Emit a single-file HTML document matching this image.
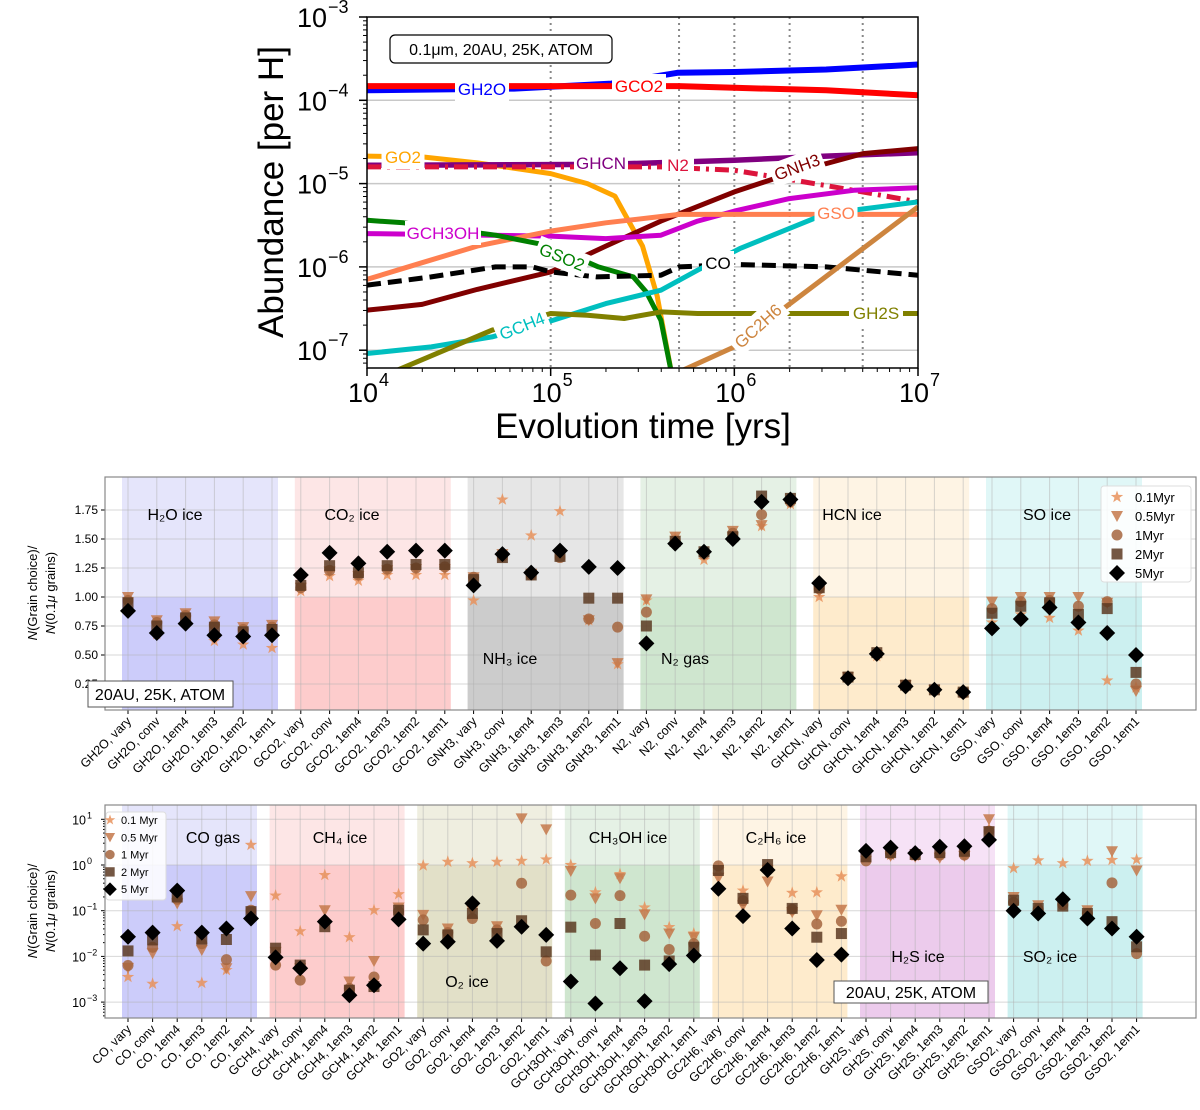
<!DOCTYPE html>
<html><head><meta charset="utf-8"><style>
html,body{margin:0;padding:0;background:#fff;}
svg{display:block;font-family:"Liberation Sans","DejaVu Sans",sans-serif;}
</style></head><body>
<svg id="fig" width="1200" height="1110" viewBox="0 0 1200 1110" xmlns="http://www.w3.org/2000/svg"></svg>
<script>
// ---------- TOP PANEL DATA (log10 time, log10 abundance) ----------
const tGH2O=[4,4.8,5.33,5.69,6,6.5,7];
const aGH2O=[-3.88,-3.86,-3.80,-3.67,-3.66,-3.63,-3.57];
const tGCO2=[4,5.7,6,6.5,7];
const aGCO2=[-3.83,-3.83,-3.85,-3.88,-3.94];
const tGO2=[4,4.3,4.6,5,5.2,5.35,5.4,5.5,5.58,5.66];
const aGO2=[-4.67,-4.68,-4.75,-4.88,-5.0,-5.15,-5.35,-5.75,-6.35,-7.3];
const tGHCN=[4,5.3,6,6.5,7];
const aGHCN=[-4.78,-4.77,-4.72,-4.67,-4.63];
const tN2=[4,5.6,6,6.3,6.65,7];
const aN2=[-4.80,-4.80,-4.84,-4.95,-5.08,-5.22];
const tGNH3=[4,4.3,4.6,5,5.3,5.6,6,6.3,6.7,7];
const aGNH3=[-6.52,-6.45,-6.27,-6.06,-5.75,-5.45,-5.1,-4.88,-4.64,-4.58];
const tGCH3OH=[4,5,5.3,5.6,5.8,6,6.3,6.65,7];
const aGCH3OH=[-5.6,-5.63,-5.66,-5.62,-5.45,-5.33,-5.18,-5.08,-5.05];
const tGSO=[4,4.3,4.6,5,5.3,5.7,7];
const aGSO=[-6.15,-5.95,-5.75,-5.57,-5.47,-5.37,-5.37];
const tGSO2=[4,4.2,4.7,5,5.26,5.45,5.52,5.6,5.66];
const aGSO2=[-5.44,-5.47,-5.62,-5.75,-6.0,-6.12,-6.3,-6.64,-7.3];
const tCO=[4,4.35,4.7,4.9,5,5.25,5.6,5.7,6,6.5,7];
const aCO=[-6.22,-6.12,-6.0,-6.0,-6.06,-6.12,-6.1,-6.0,-5.97,-6.0,-6.1];
const tGCH4=[4,4.35,4.68,5,5.3,5.6,5.8,6.03,6.5,7];
const aGCH4=[-7.04,-6.96,-6.84,-6.65,-6.44,-6.28,-6.04,-5.78,-5.36,-5.22];
const tGH2S=[4.1,4.68,5.0,5.2,5.4,5.6,5.8,7];
const aGH2S=[-7.3,-6.76,-6.56,-6.58,-6.62,-6.54,-6.56,-6.56];
const tGC2H6=[5.66,6,6.28,6.52,6.76,7];
const aGC2H6=[-7.3,-6.96,-6.48,-6.08,-5.68,-5.28];

// ---------- MIDDLE PANEL DATA ----------
const midCats=["GH2O, vary","GH2O, conv","GH2O, 1em4","GH2O, 1em3","GH2O, 1em2","GH2O, 1em1",
"GCO2, vary","GCO2, conv","GCO2, 1em4","GCO2, 1em3","GCO2, 1em2","GCO2, 1em1",
"GNH3, vary","GNH3, conv","GNH3, 1em4","GNH3, 1em3","GNH3, 1em2","GNH3, 1em1",
"N2, vary","N2, conv","N2, 1em4","N2, 1em3","N2, 1em2","N2, 1em1",
"GHCN, vary","GHCN, conv","GHCN, 1em4","GHCN, 1em3","GHCN, 1em2","GHCN, 1em1",
"GSO, vary","GSO, conv","GSO, 1em4","GSO, 1em3","GSO, 1em2","GSO, 1em1"];
const mid01=[0.98,0.68,0.82,0.62,0.59,0.56, 1.05,1.18,1.14,1.19,1.19,1.19, 0.97,1.84,1.53,1.74,0.80,0.42, 0.97,1.51,1.32,1.54,1.61,1.80, 1.00,0.31,0.49,0.24,0.20,0.17, 0.78,0.85,0.82,0.71,0.28,0.22];
const mid05=[1.00,0.80,0.86,0.79,0.74,0.76, 1.08,1.22,1.18,1.23,1.24,1.24, 1.17,1.37,1.20,1.35,0.80,0.43, 0.98,1.52,1.36,1.57,1.62,1.81, 1.05,0.31,0.50,0.24,0.20,0.17, 0.96,1.00,1.00,1.00,0.95,0.19];
const mid1=[0.97,0.78,0.84,0.76,0.72,0.74, 1.08,1.23,1.19,1.24,1.25,1.26, 1.17,1.35,1.19,1.34,0.81,0.74, 0.87,1.48,1.37,1.55,1.71,1.82, 1.07,0.31,0.51,0.24,0.20,0.17, 0.90,0.96,0.97,0.92,0.96,0.25];
const mid2=[0.95,0.75,0.82,0.74,0.70,0.72, 1.10,1.27,1.21,1.27,1.28,1.28, 1.15,1.34,1.19,1.35,0.99,0.99, 0.75,1.48,1.39,1.52,1.87,1.85, 1.08,0.31,0.52,0.24,0.20,0.18, 0.86,0.92,0.95,0.85,0.90,0.35];
const mid5=[0.88,0.69,0.77,0.67,0.66,0.67, 1.19,1.38,1.29,1.39,1.40,1.40, 1.10,1.37,1.21,1.40,1.26,1.25, 0.60,1.46,1.39,1.50,1.82,1.84, 1.12,0.30,0.51,0.23,0.20,0.18, 0.73,0.81,0.91,0.78,0.69,0.50];
const midTicks=[0.25,0.50,0.75,1.00,1.25,1.50,1.75];
const midTickLabels=["0.25","0.50","0.75","1.00","1.25","1.50","1.75"];

// ---------- BOTTOM PANEL DATA (log10 values) ----------
const botCats=["CO, vary","CO, conv","CO, 1em4","CO, 1em3","CO, 1em2","CO, 1em1",
"GCH4, vary","GCH4, conv","GCH4, 1em4","GCH4, 1em3","GCH4, 1em2","GCH4, 1em1",
"GO2, vary","GO2, conv","GO2, 1em4","GO2, 1em3","GO2, 1em2","GO2, 1em1",
"GCH3OH, vary","GCH3OH, conv","GCH3OH, 1em4","GCH3OH, 1em3","GCH3OH, 1em2","GCH3OH, 1em1",
"GC2H6, vary","GC2H6, conv","GC2H6, 1em4","GC2H6, 1em3","GC2H6, 1em2","GC2H6, 1em1",
"GH2S, vary","GH2S, conv","GH2S, 1em4","GH2S, 1em3","GH2S, 1em2","GH2S, 1em1",
"GSO2, vary","GSO2, conv","GSO2, 1em4","GSO2, 1em3","GSO2, 1em2","GSO2, 1em1"];
const bot01=[-2.45,-2.6,-1.34,-2.58,-2.3,0.44, -0.67,-1.45,-0.22,-1.58,-0.99,-0.64, -0.01,0.07,0.04,0.07,0.09,0.12, 0.0,-0.6,-0.2,-0.93,-1.36,-1.5, -0.1,-0.56,-0.05,-0.61,-0.6,-0.25, 0.15,0.22,0.2,0.22,0.25,0.79, -0.07,0.1,0.04,0.09,0.11,0.12];
const bot05=[-2.25,-1.93,-0.84,-1.86,-2.26,-0.68, -1.9,-2.26,-0.99,-2.55,-2.1,-0.93, -1.09,-1.39,-1.0,-1.34,1.02,0.78, -0.13,-0.73,-0.29,-1.08,-1.5,-1.58, -0.28,-0.89,-0.36,-1.03,-1.1,-0.98, 0.2,0.2,0.18,0.16,0.2,1.0, -0.7,-0.88,-0.8,-0.99,0.3,-0.12];
const bot1=[-2.2,-1.8,-0.75,-1.72,-2.07,-0.99, -2.19,-2.52,-1.24,-2.7,-2.45,-1.02, -1.2,-1.48,-1.17,-1.42,-0.4,-2.1, -0.66,-1.28,-0.67,-1.56,-1.85,-1.72, -0.02,-0.78,-0.07,-0.97,-1.29,-1.23, 0.09,0.24,0.22,0.22,0.22,0.74, -0.82,-0.97,-0.87,-1.06,-0.39,-1.94];
const bot2=[-1.88,-1.64,-0.7,-1.62,-1.63,-1.02, -1.82,-2.19,-1.35,-2.74,-2.66,-0.99, -1.42,-1.53,-1.06,-1.5,-1.22,-1.9, -1.36,-1.97,-1.28,-2.19,-2.1,-1.8, -0.12,-0.73,0.01,-0.95,-1.58,-1.5, 0.18,0.27,0.23,0.27,0.3,0.73, -0.77,-0.95,-0.9,-1.06,-1.24,-1.79];
const bot5=[-1.57,-1.48,-0.56,-1.48,-1.39,-1.17, -2.02,-2.26,-1.24,-2.85,-2.63,-1.19, -1.72,-1.68,-0.84,-1.66,-1.35,-1.53, -2.55,-3.03,-2.26,-2.98,-2.17,-1.98, -0.52,-1.12,-0.11,-1.39,-2.08,-1.96, 0.31,0.38,0.26,0.4,0.41,0.55, -1.0,-1.06,-0.75,-1.17,-1.39,-1.57];
const botTicks=[1,0,-1,-2,-3];

// ---------- helpers ----------
const NS="http://www.w3.org/2000/svg";
const svg=document.getElementById('fig');
function mk(tag,attrs,parent){const e=document.createElementNS(NS,tag);for(const k in attrs)e.setAttribute(k,attrs[k]);(parent||svg).appendChild(e);return e;}
function txt(s,attrs,parent){const e=mk('text',attrs,parent);e.textContent=s;return e;}

// ================= TOP PANEL =================
const TX0=367,TX1=918,TY0=17,TY1=368;
const tX=lt=>TX0+(lt-4)*(TX1-TX0)/3;
const tY=la=>TY0+(-3-la)*83.3;
const topG=mk('g',{});


const cp=mk('clipPath',{id:'tclip'},topG);
mk('rect',{x:TX0,y:TY0,width:TX1-TX0,height:TY1-TY0},cp);
[-4,-5,-6,-7].forEach(d=>{const l=mk('line',{x1:TX0,x2:TX1,y1:tY(d),y2:tY(d),stroke:'#c8c8c8','stroke-width':1.5},topG);
});
[5,Math.log10(5e5),6,Math.log10(2e6),Math.log10(5e6)].forEach(v=>{const l=mk('line',{x1:tX(v),x2:tX(v),y1:TY0,y2:TY1,stroke:'#888','stroke-width':2,'stroke-dasharray':'2,4'},topG);
});
const curves=[
 ['gh2o',tGH2O,aGH2O,'#0000ff',6,null],
 ['gco2',tGCO2,aGCO2,'#ff0000',6,null],
 ['go2',tGO2,aGO2,'#ffa500',5,null],
 ['ghcn',tGHCN,aGHCN,'#800080',5.5,null],
 ['n2',tN2,aN2,'#dc143c',5,'14,6,3,6'],
 ['gnh3',tGNH3,aGNH3,'#800000',5,null],
 ['gch3oh',tGCH3OH,aGCH3OH,'#cc00cc',5,null],
 ['gso',tGSO,aGSO,'#ff7f50',5,null],
 ['gso2',tGSO2,aGSO2,'#008000',5,null],
 ['co',tCO,aCO,'#000000',5,'14,7'],
 ['gch4',tGCH4,aGCH4,'#00bfbf',5,null],
 ['gh2s',tGH2S,aGH2S,'#808000',5,null],
 ['gc2h6',tGC2H6,aGC2H6,'#cd853f',5,null]];
curves.forEach(c=>{const pts=c[1].map((t,i)=>tX(t).toFixed(1)+','+tY(c[2][i]).toFixed(1)).join(' ');
 const p=mk('polyline',{points:pts,fill:'none',stroke:c[3],'stroke-width':c[4],'stroke-linejoin':'round','clip-path':'url(#tclip)'},topG);
 if(c[5])p.setAttribute('stroke-dasharray',c[5]);
 
 });
const labs=[['GH2O',482,89,'#0000ff',0],['GCO2',639,86,'#ff0000',0],['GO2',403,157,'#ffa500',0],['GHCN',601,163,'#800080',0],['N2',678,165,'#dc143c',0],['GNH3',797,167,'#800000',-20],['GSO',836,213,'#ff7f50',0],['GCH3OH',443,233,'#cc00cc',0],['GSO2',562,257,'#008000',22],['CO',718,263,'#000',0],['GCH4',522,326,'#00bfbf',-22],['GC2H6',758,326,'#cd853f',-42],['GH2S',876,313,'#808000',0]];
labs.forEach(l=>{const g=mk('g',{transform:`translate(${l[1]},${l[2]}) rotate(${l[4]})`},topG);
 
 const w=l[0].length*11+10;mk('rect',{x:-w/2,y:-12,width:w,height:24,fill:'#fff'},g);
 txt(l[0],{x:0,y:6,'text-anchor':'middle','font-size':17,fill:l[3]},g);});
const tf=mk('rect',{x:TX0,y:TY0,width:TX1-TX0,height:TY1-TY0,fill:'none',stroke:'#000','stroke-width':1.5},topG);

[-3,-4,-5,-6,-7].forEach(d=>{mk('line',{x1:TX0-8,x2:TX0,y1:tY(d),y2:tY(d),stroke:'#000','stroke-width':1.5},topG);
 const t=txt('10',{x:TX0-40,y:tY(d)+10,'text-anchor':'end','font-size':27},topG);
 
 txt('−'+(-d),{x:TX0-39,y:tY(d)-4,'font-size':18},topG);
 for(let m=2;m<10;m++){const yy=tY(d-1+Math.log10(m));if(yy<TY1&&yy>TY0)mk('line',{x1:TX0-4,x2:TX0,y1:yy,y2:yy,stroke:'#000'},topG);}});
[4,5,6,7].forEach(d=>{mk('line',{x1:tX(d),x2:tX(d),y1:TY1,y2:TY1+8,stroke:'#000','stroke-width':1.5},topG);
 const t=txt('10',{x:tX(d)-4,y:TY1+34,'text-anchor':'middle','font-size':27},topG);
 
 txt(String(d),{x:tX(d)+12,y:TY1+18,'font-size':18},topG);
 if(d<7)for(let m=2;m<10;m++)mk('line',{x1:tX(d+Math.log10(m)),x2:tX(d+Math.log10(m)),y1:TY1,y2:TY1+4,stroke:'#000'},topG);});
let e=txt('Evolution time [yrs]',{x:643,y:438,'text-anchor':'middle','font-size':35},topG);

e=txt('Abundance [per H]',{x:0,y:0,'text-anchor':'middle','font-size':35,transform:'translate(283,192) rotate(-90)'},topG);

const ab=mk('g',{},topG);
mk('rect',{x:390,y:35,width:222,height:28,rx:5,fill:'#fff',stroke:'#000','stroke-width':1.2},ab);
txt('0.1μm, 20AU, 25K, ATOM',{x:501,y:55,'text-anchor':'middle','font-size':16},ab);

// ================= marker drawing =================
const mColors=['#e8925c','#c4784a','#a5653e','#5c3a22','#000000'];
const mTypes=['star','tri','circ','sq','dia'];
function marker(type,cx,cy,col,parent,s){s=s||1;let el;
 if(type==='star'){let p=[];for(let i=0;i<10;i++){const r=(i%2?2.6:6.5)*s,a=-Math.PI/2+i*Math.PI/5;p.push((cx+r*Math.cos(a)).toFixed(1)+','+(cy+r*Math.sin(a)).toFixed(1));}
  el=mk('polygon',{points:p.join(' '),fill:col,opacity:0.85},parent);}
 else if(type==='tri'){el=mk('polygon',{points:`${cx-6*s},${cy-5*s} ${cx+6*s},${cy-5*s} ${cx},${cy+6*s}`,fill:col,opacity:0.85},parent);}
 else if(type==='circ'){el=mk('circle',{cx:cx,cy:cy,r:5.5*s,fill:col,opacity:0.85},parent);}
 else if(type==='sq'){el=mk('rect',{x:cx-5.5*s,y:cy-5.5*s,width:11*s,height:11*s,fill:col,opacity:0.85},parent);}
 else {el=mk('polygon',{points:`${cx},${cy-8*s} ${cx+8*s},${cy} ${cx},${cy+8*s} ${cx-8*s},${cy}`,fill:col},parent);}
 return el;}

function ylabel2(parent,cy){const g=mk('g',{transform:`translate(0,${cy})`},parent);
 
 const a=mk('text',{x:0,y:0,'text-anchor':'middle','font-size':13,transform:'translate(37,0) rotate(-90)'},g);
 a.innerHTML='<tspan font-style="italic">N</tspan>(Grain choice)/';
 const b=mk('text',{x:0,y:0,'text-anchor':'middle','font-size':13,transform:'translate(55,0) rotate(-90)'},g);
 b.innerHTML='<tspan font-style="italic">N</tspan>(0.1<tspan font-style="italic">μ</tspan> grains)';}

// ================= MIDDLE PANEL =================
const MX0=105,MX1=1196,MY0=477,MY1=710;
const mX=i=>128+i*28.8;
const mY=v=>597-(v-1)*116;
const midG=mk('g',{});
const midShade=[['#e5e5fb','#ccccfa'],['#fde6e6','#fdcccc'],['#e6e6e6','#cccccc'],['#e5f1e5','#cfe6cf'],['#fef4e4','#feebcc'],['#e0f7f7','#ccf0f0']];
midShade.forEach((c,gi)=>{const x0=mX(gi*6)-6,x1=mX(gi*6+5)+6;
 const r1=mk('rect',{x:x0,y:MY0,width:x1-x0,height:mY(1)-MY0,fill:c[0]},midG);
 const r2=mk('rect',{x:x0,y:mY(1),width:x1-x0,height:MY1-mY(1),fill:c[1]},midG);});
midCats.forEach((c,i)=>{mk('line',{x1:mX(i),x2:mX(i),y1:MY0,y2:MY1,stroke:'#b0b0b0','stroke-opacity':0.5},midG);
 mk('line',{x1:mX(i),x2:mX(i),y1:MY1,y2:MY1+4,stroke:'#000'},midG);
 const t=txt(c,{x:0,y:0,'text-anchor':'end','font-size':12.5,transform:`translate(${mX(i)+4},${MY1+12}) rotate(-45)`},midG);
 });
midTicks.forEach((v,i)=>{mk('line',{x1:MX0,x2:MX1,y1:mY(v),y2:mY(v),stroke:'#b0b0b0','stroke-opacity':0.5},midG);
 mk('line',{x1:MX0-4,x2:MX0,y1:mY(v),y2:mY(v),stroke:'#000'},midG);
 const t=txt(midTickLabels[i],{x:MX0-7,y:mY(v)+4,'text-anchor':'end','font-size':12},midG);
 });
[['H₂O ice',175,520],['CO₂ ice',352,520],['NH₃ ice',510,664],['N₂ gas',685,664],['HCN ice',852,520],['SO ice',1047,520]].forEach(l=>{
 const t=txt(l[0],{x:l[1],y:l[2],'text-anchor':'middle','font-size':16},midG);});
const midSeries=[mid01,mid05,mid1,mid2,mid5];
midSeries.forEach((arr,si)=>{arr.forEach((v,i)=>{const m=marker(mTypes[si],mX(i),mY(v),mColors[si],midG);
 
 });});
let fr=mk('rect',{x:MX0,y:MY0,width:MX1-MX0,height:MY1-MY0,fill:'none',stroke:'#888','stroke-width':1.2},midG);

ylabel2(midG,593);
let lg=mk('g',{},midG);
mk('rect',{x:1101,y:486,width:90,height:96,rx:3,fill:'#fff','fill-opacity':0.85,stroke:'#ddd'},lg);
['0.1Myr','0.5Myr','1Myr','2Myr','5Myr'].forEach((s,i)=>{const y=497+i*19;marker(mTypes[i],1117,y,mColors[i],lg);
 const t=txt(s,{x:1135,y:y+5,'font-size':13},lg);});
let ann=mk('g',{},midG);
mk('rect',{x:88,y:681,width:145,height:26,fill:'#fff',stroke:'#555'},ann);
txt('20AU, 25K, ATOM',{x:160,y:700,'text-anchor':'middle','font-size':16},ann);

// ================= BOTTOM PANEL =================
const BX0=105,BX1=1196,BY0=805,BY1=1018;
const bX=i=>128+i*24.6;
const bY=lv=>865-lv*45.7;
const botG=mk('g',{});
const botShade=[['#e5e5fb','#ccccfa'],['#fde6e6','#fdcccc'],['#efeee0','#e2e0c8'],['#e5f1e5','#cfe6cf'],['#fef4e4','#feebcc'],['#f6e2f6','#eccbec'],['#e0f7f7','#ccf0f0']];
botShade.forEach((c,gi)=>{const x0=bX(gi*6)-6,x1=bX(gi*6+5)+6;
 const r1=mk('rect',{x:x0,y:BY0,width:x1-x0,height:bY(0)-BY0,fill:c[0]},botG);
 const r2=mk('rect',{x:x0,y:bY(0),width:x1-x0,height:BY1-bY(0),fill:c[1]},botG);});
botCats.forEach((c,i)=>{mk('line',{x1:bX(i),x2:bX(i),y1:BY0,y2:BY1,stroke:'#b0b0b0','stroke-opacity':0.5},botG);
 mk('line',{x1:bX(i),x2:bX(i),y1:BY1,y2:BY1+4,stroke:'#000'},botG);
 const t=txt(c,{x:0,y:0,'text-anchor':'end','font-size':12.5,transform:`translate(${bX(i)+4},${BY1+12}) rotate(-45)`},botG);
 });
botTicks.forEach(d=>{mk('line',{x1:BX0,x2:BX1,y1:bY(d),y2:bY(d),stroke:'#b0b0b0','stroke-opacity':0.5},botG);
 mk('line',{x1:BX0-4,x2:BX0,y1:bY(d),y2:bY(d),stroke:'#000'},botG);
 for(let m=2;m<10;m++){const yy=bY(d-1+Math.log10(m));if(yy<BY1)mk('line',{x1:BX0-2,x2:BX0,y1:yy,y2:yy,stroke:'#000'},botG);}
 const t=txt('10',{x:BX0-19,y:bY(d)+5,'text-anchor':'end','font-size':12.5},botG);
 
 txt(d<0?'−'+(-d):String(d),{x:BX0-18,y:bY(d)-1,'font-size':9},botG);});
[['CO gas',213,843],['CH₄ ice',340,843],['O₂ ice',467,987],['CH₃OH ice',628,843],['C₂H₆ ice',776,843],['H₂S ice',918,962],['SO₂ ice',1050,962]].forEach(l=>{
 const t=txt(l[0],{x:l[1],y:l[2],'text-anchor':'middle','font-size':16},botG);});
const botSeries=[bot01,bot05,bot1,bot2,bot5];
botSeries.forEach((arr,si)=>{arr.forEach((v,i)=>{const m=marker(mTypes[si],bX(i),bY(v),mColors[si],botG);
 
 });});
fr=mk('rect',{x:BX0,y:BY0,width:BX1-BX0,height:BY1-BY0,fill:'none',stroke:'#888','stroke-width':1.2},botG);

ylabel2(botG,911);
lg=mk('g',{},botG);
mk('rect',{x:106,y:812,width:60,height:88,rx:3,fill:'#fff','fill-opacity':0.85,stroke:'#ddd'},lg);
['0.1 Myr','0.5 Myr','1 Myr','2 Myr','5 Myr'].forEach((s,i)=>{const y=820+i*17.3;marker(mTypes[i],110,y,mColors[i],lg,0.85);
 const t=txt(s,{x:121,y:y+4,'font-size':11},lg);});
ann=mk('g',{},botG);
mk('rect',{x:834,y:981,width:154,height:22,fill:'#fff',stroke:'#555'},ann);
txt('20AU, 25K, ATOM',{x:911,y:998,'text-anchor':'middle','font-size':16},ann);
</script>
</body></html>
